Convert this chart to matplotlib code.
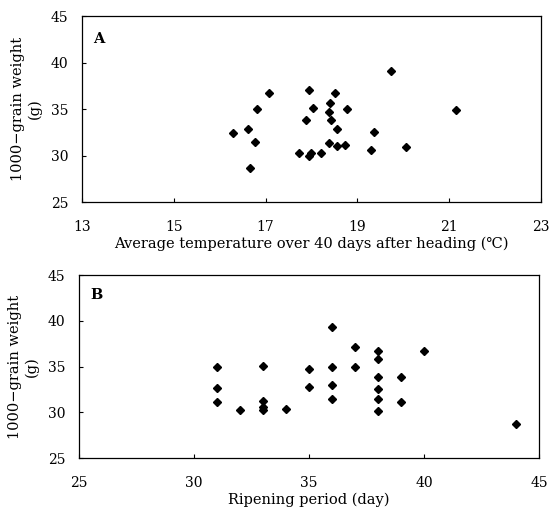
import matplotlib
matplotlib.use('Agg')
import matplotlib.pyplot as plt

# Panel A: average temperature over 40 days after heading vs 1000-grain weight
temp_a = [16.30, 16.62, 16.78, 16.65, 16.81, 17.07, 17.73, 17.95, 18.00, 18.20,
          17.88, 17.95, 18.04, 18.38, 18.40, 18.42, 18.51, 18.55, 18.39, 18.56,
          18.72, 18.77, 19.30, 19.36, 19.73, 20.06, 21.15]
weight_a = [32.4, 32.8, 31.4, 28.7, 35.0, 36.7, 30.3, 30.0, 30.3, 30.3,
            33.8, 37.0, 35.1, 34.7, 35.7, 33.8, 36.7, 32.8, 31.3, 31.0,
            31.1, 35.0, 30.6, 32.5, 39.1, 30.9, 34.9]

# Panel B: ripening period vs 1000-grain weight
days_b = [31, 31, 31, 32, 33, 33, 33, 33, 34, 35, 35, 36, 36, 36, 36,
          37, 37, 38, 38, 38, 38, 38, 38, 39, 39, 40, 44]
weight_b = [35.0, 32.6, 31.1, 30.3, 35.1, 31.2, 30.6, 30.3, 30.4, 34.7, 32.8,
            39.3, 35.0, 33.0, 31.4, 37.1, 35.0, 36.7, 35.8, 33.8, 32.5, 31.5,
            30.1, 33.8, 31.1, 36.7, 28.7]

xticks_a = [13, 15, 17, 19, 21, 23]
xticks_b = [25, 30, 35, 40, 45]
yticks = [25, 30, 35, 40, 45]

plt.rcParams['font.family'] = ['DejaVu Serif']

fig = plt.figure(figsize=(5.51, 5.13), dpi=100)
ax1 = fig.add_axes([0.1488, 0.6062, 0.8330, 0.3626])
ax2 = fig.add_axes([0.1434, 0.1072, 0.8350, 0.3567])

panels = [
    (ax1, temp_a, weight_a, xticks_a, 'A', 0.914,
     'Average temperature over 40 days after heading (\u2103)'),
    (ax2, days_b, weight_b, xticks_b, 'B', 0.929, 'Ripening period (day)'),
]

for ax, x, y, xt, tag, ty, xlabel in panels:
    ax.plot(x, y, 'D', color='black', markersize=4.2, linestyle='none')
    ax.set_xlim(xt[0], xt[-1])
    ax.set_ylim(25, 45)
    ax.set_xticks(xt)
    ax.set_yticks(yticks)
    ax.tick_params(direction='in', length=3, width=0.8, labelsize=10,
                   colors='black')
    ax.tick_params(axis='x', pad=13)
    ax.tick_params(axis='y', pad=10)
    for s in ax.spines.values():
        s.set_linewidth(0.9)
    ax.set_xlabel(xlabel, fontsize=10.5, labelpad=2)
    ax.set_ylabel('1000\u2212grain weight\n(g)', fontsize=10.5,
                  linespacing=1.25, labelpad=6)
    ax.text(0.024, ty, tag, transform=ax.transAxes, fontsize=10.5,
            fontweight='bold', va='top', ha='left')

fig.savefig('out.png', dpi=100)
